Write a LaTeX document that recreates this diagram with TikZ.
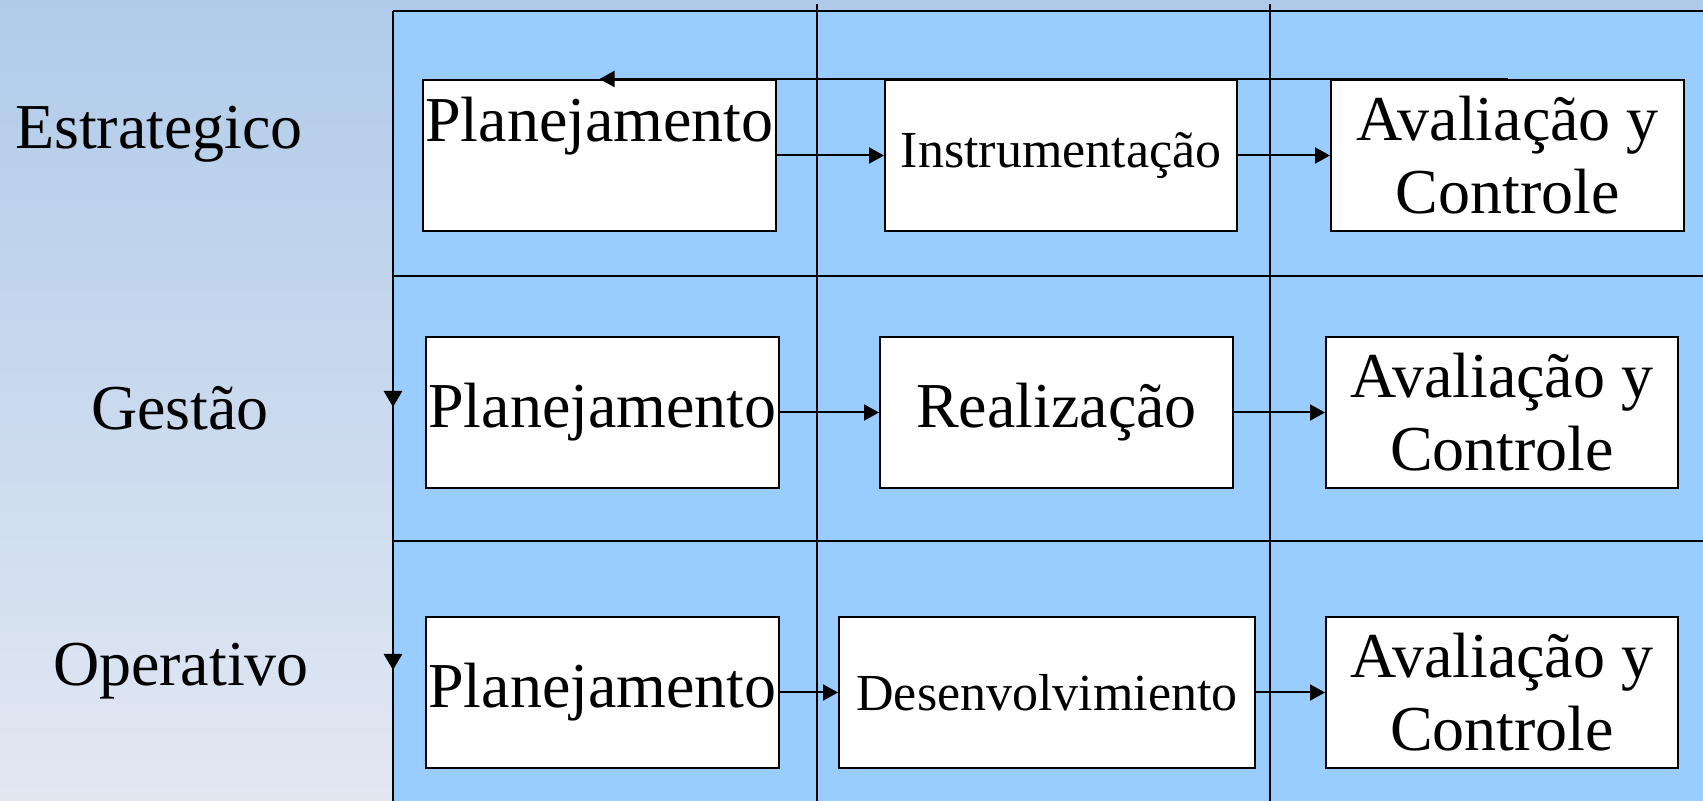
\documentclass[tikz,border=0pt]{standalone}
\usepackage{fontspec}
\setmainfont{Liberation Serif}
\usetikzlibrary{arrows.meta}

\definecolor{cellblue}{HTML}{99CCFF}
\definecolor{bgtop}{HTML}{B0CBEA}
\definecolor{bgbottom}{HTML}{E2E8F2}

\begin{document}
\begin{tikzpicture}[x=0.5pt, y=-0.5pt, line width=1pt,
	box/.style = {draw, fill=white, inner sep=0pt, minimum width=176.5pt, minimum height=75.5pt, align=center, font=\fontsize{32}{36.5}\selectfont},
	smallbox/.style = {box, font=\fontsize{26}{30}\selectfont},
	level/.style = {anchor=base, font=\fontsize{32}{36.5}\selectfont},
	conn/.style = {-{Triangle[length=7.5pt, width=8pt]}},
	downconn/.style = {-{Triangle[length=8pt, width=9pt]}, line width=1.4pt}]
	\useasboundingbox (0,0) rectangle (1703,801);
	\shade[top color=bgtop, bottom color=bgbottom] (0,0) rectangle (1703,801);
	\fill[cellblue] (393,11) rectangle (1703,801);
	% grid
	\draw (393,11) -- (1703,11);
	\draw (393,11) -- (393,801);
	\draw (817,4) -- (817,801);
	\draw (1270,4) -- (1270,801);
	\draw (393,276) -- (1703,276);
	\draw (393,541) -- (1703,541);
	% levels
	\node[level] (estr) at (159,149) {Estrategico};
	\node[level] (gest) at (180,430) {Gestão};
	\node[level] (oper) at (181,686) {Operativo};
	% boxes
	\node[box] (plan1) at (599.5,155.5) {Planejamento\\~};
	\node[smallbox, minimum width=176pt] (inst) at (1061,155.5) {\raisebox{-1.5pt}{Instrumentação}};
	\node[box] (aval1) at (1507.5,155.5) {Avaliação y\\Controle};
	\node[box] (plan2) at (602.5,412.5) {Planejamento};
	\node[box] (real) at (1056.5,412.5) {Realização};
	\node[box, minimum width=176pt] (aval2) at (1502,412.5) {Avaliação y\\Controle};
	\node[box] (plan3) at (602.5,692.5) {Planejamento};
	\node[smallbox, minimum width=208pt] (desv) at (1047,692.5) {Desenvolvimiento};
	\node[box, minimum width=176pt] (aval3) at (1502,692.5) {Avaliação y\\Controle};
	% flow
	\draw[conn] (plan1) -- (inst);
	\draw[conn] (inst) -- (aval1);
	\draw[conn] (plan2) -- (real);
	\draw[conn] (real) -- (aval2);
	\draw[conn] (plan3) -- (desv);
	\draw[conn] (desv) -- (aval3);
	\draw[conn] (aval1.north) -- (plan1.north);
	%
	\coordinate (vtop) at (393,143);
	\coordinate (vmid) at (393,407);
	\coordinate (vlow) at (393,670);
	\coordinate (vend) at (393,801);
	\draw[downconn] (vtop) -- (vmid);
	\draw[downconn] (vmid) -- (vlow);
	\draw[line width=1.4pt] (vlow) -- (vend);
\end{tikzpicture}
\end{document}
